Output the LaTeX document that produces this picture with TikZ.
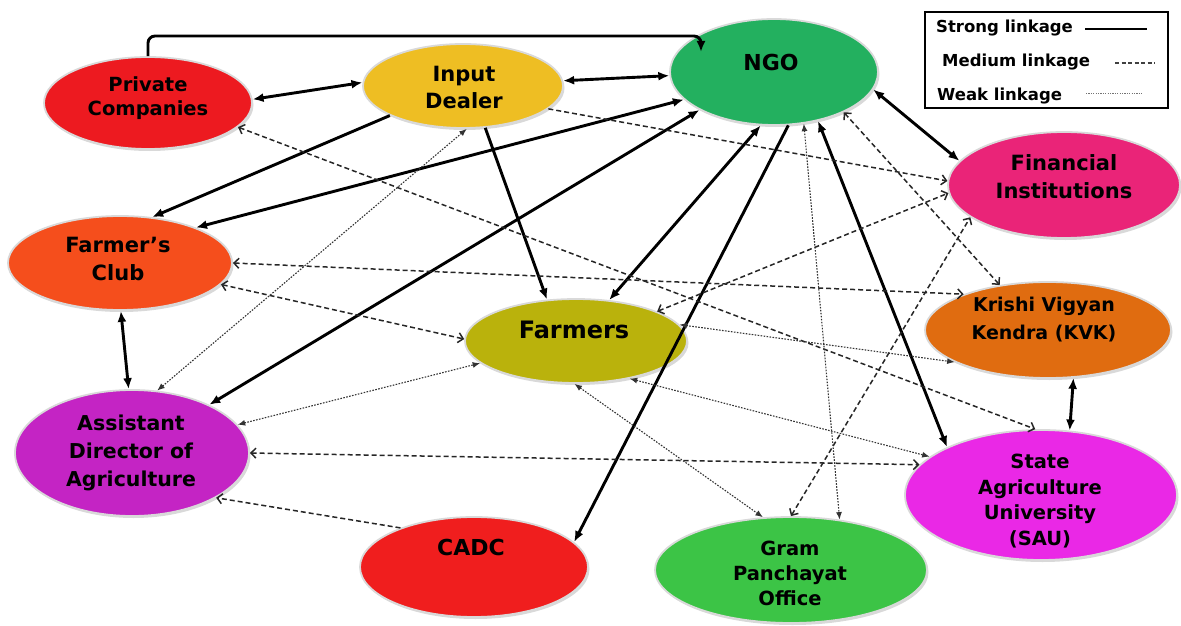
\documentclass[tikz,border=0pt]{standalone}
\usepackage{fontspec}
\setmainfont{DejaVu Sans}
\usetikzlibrary{arrows.meta,shapes.geometric,shadows}
\definecolor{cPC}{RGB}{237,26,32}
\definecolor{cID}{RGB}{238,190,35}
\definecolor{cNGO}{RGB}{35,176,95}
\definecolor{cFI}{RGB}{234,36,120}
\definecolor{cFC}{RGB}{245,78,28}
\definecolor{cKVK}{RGB}{224,108,16}
\definecolor{cFA}{RGB}{186,178,12}
\definecolor{cADA}{RGB}{196,36,196}
\definecolor{cSAU}{RGB}{234,40,230}
\definecolor{cCADC}{RGB}{240,30,30}
\definecolor{cGP}{RGB}{60,196,70}
\newcommand{\myfs}[2]{\bfseries\fontsize{#1}{#2}\selectfont}
\begin{document}
\begin{tikzpicture}[x=1pt,y=-1pt,
  ell/.style={ellipse, inner sep=0pt, draw=black!15, line width=1.8pt, fill=#1,
    drop shadow={shadow xshift=1.5pt, shadow yshift=-2pt, opacity=0.3}},
  lbl/.style={align=center, inner sep=0pt, text=black},
  strong/.style={line width=2.9pt, black},
  send/.style={strong, -{Latex[length=11pt,width=9pt]}},
  sboth/.style={strong, {Latex[length=11pt,width=9pt]}-{Latex[length=11pt,width=9pt]}},
  medium/.style={line width=1.5pt, black!85, dash pattern=on 5pt off 3pt},
  mend/.style={medium, -{Straight Barb[length=5pt,width=10pt]}},
  mboth/.style={medium, {Straight Barb[length=5pt,width=10pt]}-{Straight Barb[length=5pt,width=10pt]}},
  weak/.style={line width=1.1pt, black!80, dash pattern=on 1.6pt off 1.4pt},
  wboth/.style={weak, {Latex[length=7.5pt,width=6pt]}-{Latex[length=7.5pt,width=6pt]}}
]
\useasboundingbox (0,0) rectangle (1181,626);

% ellipses
\node[ell=cPC,  minimum width=208pt, minimum height=92pt]  (PC)   at (148,103) {};
\node[ell=cID,  minimum width=200pt, minimum height=84pt]  (ID)   at (463,86)  {};
\node[ell=cNGO, minimum width=208pt, minimum height=106pt] (NGO)  at (774,72)  {};
\node[ell=cFI,  minimum width=232pt, minimum height=106pt] (FI)   at (1064,185) {};
\node[ell=cFC,  minimum width=224pt, minimum height=94pt]  (FC)   at (120,263) {};
\node[ell=cKVK, minimum width=246pt, minimum height=96pt]  (KVK)  at (1048,330) {};
\node[ell=cFA,  minimum width=222pt, minimum height=84pt]  (FA)   at (576,341) {};
\node[ell=cADA, minimum width=234pt, minimum height=126pt] (ADA)  at (132,453) {};
\node[ell=cSAU, minimum width=272pt, minimum height=130pt] (SAU)  at (1041,495) {};
\node[ell=cCADC,minimum width=228pt, minimum height=100pt] (CADC) at (474,567) {};
\node[ell=cGP,  minimum width=272pt, minimum height=106pt] (GP)   at (791,570) {};

% labels
\node[lbl, font=\myfs{19.5}{24}] (PCt)  at (148,98)  {Private\\Companies};
\node[lbl, font=\myfs{21}{27}]   (IDt)  at (464,87)  {Input\\Dealer};
\node[lbl, font=\myfs{22}{26}]   (NGOt) at (771,62)  {NGO};
\node[lbl, font=\myfs{21}{28}]   (FIt)  at (1064,177) {Financial\\Institutions};
\node[lbl, font=\myfs{21}{28}]   (FCt)  at (118,259) {Farmer’s\\Club};
\node[lbl, font=\myfs{19}{28}]   (KVKt) at (1044,320) {Krishi Vigyan\\Kendra (KVK)};
\node[lbl, font=\myfs{24}{28}]   (FAt)  at (574,330) {Farmers};
\node[lbl, font=\myfs{20.5}{28}] (ADAt) at (131,453) {Assistant\\Director of\\Agriculture};
\node[lbl, font=\myfs{19.5}{25.5}] (SAUt) at (1040,501) {State\\Agriculture\\University\\(SAU)};
\node[lbl, font=\myfs{22}{26}]   (CADCt) at (471,547) {CADC};
\node[lbl, font=\myfs{19.5}{25}] (GPt)  at (790,573) {Gram\\Panchayat\\Office};

% strong linkages
\coordinate (topL) at (148,36);
\coordinate (topR) at (701,36);
\coordinate (ngoIn) at (701,52);
\draw[send, rounded corners=7pt] (PC.north) -- (topL) -- (topR) -- (ngoIn);
\draw[sboth] (PC.2) -- (ID.178);
\draw[sboth] (ID.3) -- (NGO.182);
\draw[send]  (ID.202) -- (FC.55);
\draw[sboth] (NGO.197) -- (FC.25);
\draw[sboth] (NGO.207) -- (ADA.32);
\draw[send]  (ID.298) -- (FA.125);
\draw[sboth] (NGO.256) -- (FA.51);
\draw[send]  (NGO.285) -- (CADC.14);
\draw[sboth] (NGO.312) -- (SAU.153);
\draw[sboth] (NGO.350) -- (FI.167);
\draw[sboth] (FC.271) -- (ADA.93);
\draw[sboth] (KVK.298) -- (SAU.66);

% medium linkages
\draw[mend]  (ID.345) -- (FI.178);
\draw[mboth] (PC.345) -- (SAU.95);
\draw[mboth] (FC.0) -- (KVK.157);
\draw[mboth] (FC.348) -- (FA.179);
\draw[mboth] (ADA.0) -- (SAU.166);
\draw[mend]  (CADC.152) -- (ADA.332);
\draw[mboth] (FA.20) -- (FI.184);
\draw[mboth] (NGO.330) -- (KVK.137);
\draw[mboth] (GP.90) -- (FI.199);

% weak linkages
\draw[wboth] (ADA.68) -- (ID.275);
\draw[wboth] (ADA.15) -- (FA.193);
\draw[wboth] (FA.9) -- (KVK.199);
\draw[wboth] (FA.325) -- (SAU.161);
\draw[wboth] (FA.268) -- (GP.118);
\draw[wboth] (NGO.300) -- (GP.46);

% legend
\node[draw, line width=2pt, minimum width=243pt, minimum height=96pt, inner sep=0pt] (legend) at (1046.5,60) {};
\node[anchor=west, inner sep=0pt, font=\myfs{16.5}{20}] (lg1) at (936,28) {Strong linkage};
\node[anchor=west, inner sep=0pt, font=\myfs{16.5}{20}] (lg2) at (942,62) {Medium linkage};
\node[anchor=west, inner sep=0pt, font=\myfs{16.5}{20}] (lg3) at (937,96) {Weak linkage};
\coordinate (s1a) at (1085,29); \coordinate (s1b) at (1147,29);
\coordinate (s2a) at (1115,63); \coordinate (s2b) at (1155,63);
\coordinate (s3a) at (1086,93); \coordinate (s3b) at (1142,93);
\draw[line width=2.8pt] (s1a) -- (s1b);
\draw[line width=1.3pt, black!75, dash pattern=on 4pt off 2.5pt] (s2a) -- (s2b);
\draw[line width=0.8pt, black!55, dash pattern=on 1.2pt off 1.2pt] (s3a) -- (s3b);
\end{tikzpicture}
\end{document}
